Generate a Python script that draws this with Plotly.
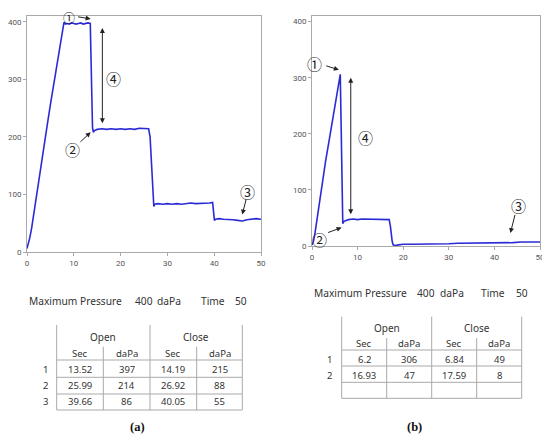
import plotly.graph_objects as go

# ---------------- data ----------------
a_time = [0, 0.3, 0.6, 1.0, 1.5, 2.0, 2.5, 3.0, 3.5, 4.0, 4.5, 5.0, 5.5, 6.0, 6.5, 7.0, 7.5, 7.9,
          8.2, 8.6, 9.0, 9.5, 10.0, 10.5, 11.0, 11.5, 12.0, 12.5, 13.0, 13.52, 13.7, 13.85, 14.0,
          14.19, 14.4, 14.7, 15, 16, 17, 18, 19, 20, 21, 22, 23, 24, 25, 25.99, 26.3, 26.6, 26.92,
          27.1, 27.3, 27.6, 28, 29, 30, 31, 32, 33, 34, 35, 36, 37, 38, 39, 39.66, 39.85, 40.05,
          40.3, 41, 42, 43, 44, 45, 46, 47, 48, 49, 50]
a_press = [6, 14, 25, 42, 70, 99, 126, 152, 178, 204, 230, 256, 282, 308, 334, 358, 382, 399,
           396, 397, 396, 398, 397, 396, 397, 398, 396, 397, 398, 397, 330, 262, 216,
           208, 211, 212, 213, 214, 213, 214, 213, 214, 213, 214, 213, 215, 214, 214, 200, 160, 100,
           79, 83, 84, 84, 83, 84, 83, 84, 83, 84, 85, 84, 84, 85, 85, 86, 70, 55,
           57, 58, 57, 57, 56, 55, 54, 56, 57, 58, 57]

b_time = [0, 0.3, 0.6, 1.0, 1.5, 2.0, 2.5, 3.0, 3.5, 4.0, 4.5, 5.0, 5.5, 6.0, 6.2, 6.4, 6.6, 6.75,
          7.0, 7.5, 8, 9, 10, 11, 12, 13, 14, 15, 16, 16.93, 17.2, 17.4, 17.59, 17.8, 18.2, 19, 20,
          22, 24, 26, 28, 30, 32, 34, 36, 38, 40, 42, 44, 46, 48, 50]
b_press = [2, 8, 20, 42, 75, 104, 128, 152, 176, 200, 225, 250, 274, 298, 306, 210, 90, 40,
           44, 46, 47, 48, 47, 48, 48, 47, 48, 48, 48, 47, 35, 18, 8, 2, 1, 2, 3,
           3, 3, 4, 4, 4, 5, 5, 5, 6, 6, 6, 6, 7, 7, 7]

x_ticks = [0, 10, 20, 30, 40, 50]
y_ticks = [0, 100, 200, 300, 400]

header_labels = ["Open", "Close"]
sub_labels = ["Sec", "daPa", "Sec", "daPa"]
a_open_sec = [13.52, 25.99, 39.66]
a_open_dapa = [397, 214, 86]
a_close_sec = [14.19, 26.92, 40.05]
a_close_dapa = [215, 88, 55]
b_open_sec = [6.2, 16.93]
b_open_dapa = [306, 47]
b_close_sec = [6.84, 17.59]
b_close_dapa = [49, 8]

info_labels = ["Maximum Pressure", "400", "daPa", "Time", "50"]

# ---------------- helpers ----------------
OFF = 8                      # page body margin
W, H = 550 - OFF, 440 - OFF
def px(x):
    return (x - OFF) / W
def py(y):
    return 1 - (y - OFF) / H

LINE = "#2b2bd6"
GRID = "#a9a9a9"
TXT = "#333333"
FONT = "Noto Sans"
CIRC = "Noto Sans CJK KR"

fig = go.Figure()
fig.add_trace(go.Scatter(x=a_time, y=a_press, mode="lines", line=dict(color=LINE, width=1.6),
                         xaxis="x", yaxis="y", showlegend=False))
fig.add_trace(go.Scatter(x=b_time, y=b_press, mode="lines", line=dict(color=LINE, width=1.6),
                         xaxis="x2", yaxis="y2", showlegend=False))

ax_common = dict(showline=True, mirror=True, linecolor=GRID, linewidth=1, showgrid=False,
                 zeroline=False, ticks="outside", ticklen=3, tickcolor=GRID, automargin=False,
                 tickfont=dict(family="Roboto", size=8, color="#555"))

fig.update_layout(
    width=W, height=H, autosize=False,
    margin=dict(l=0, r=0, t=0, b=0),
    paper_bgcolor="white", plot_bgcolor="white",
    xaxis=dict(domain=[px(27), px(261)], range=[0, 50], tickvals=x_ticks, anchor="y", **ax_common),
    yaxis=dict(domain=[py(252), py(16)], range=[0, 410], tickvals=y_ticks, anchor="x", **ax_common),
    xaxis2=dict(domain=[px(312), px(540)], range=[0, 50], tickvals=x_ticks, anchor="y2", **ax_common),
    yaxis2=dict(domain=[py(246), py(16)], range=[0, 410], tickvals=y_ticks, anchor="x2", **ax_common),
)

ann = []
shapes = []

# circled markers and arrows
def circ(text, x, y, xr, yr, size=15):
    ann.append(dict(text=text, x=x, y=y, xref=xr, yref=yr, showarrow=False,
                    xanchor="center", yanchor="middle",
                    font=dict(family=CIRC, size=size, color="#222")))

def arrow(x0, y0, x1, y1, xr, yr, both=False):
    d = dict(text="", x=x1, y=y1, ax=x0, ay=y0, xref=xr, yref=yr, axref=xr, ayref=yr,
             showarrow=True, arrowhead=2, arrowsize=1, arrowwidth=1, arrowcolor="#222",
             standoff=0, startstandoff=0)
    if both:
        d.update(arrowside="end+start", startarrowhead=2, startarrowsize=1)
    ann.append(d)

# panel (a)
circ("①", px(69), py(17.5), "paper", "paper", size=12); arrow(10.6, 409, 13.6, 405, "x", "y")
circ("②", 9.7, 178, "x", "y"); arrow(11.1, 189, 13.6, 208, "x", "y")
circ("③", 47.1, 105, "x", "y"); arrow(46.9, 94, 46.0, 65, "x", "y")
circ("④", 18.5, 302, "x", "y"); arrow(16.1, 221, 16.1, 389, "x", "y", both=True)
# panel (b)
circ("①", 0.6, 325, "x2", "y2"); arrow(2.8, 322, 5.9, 314, "x2", "y2")
circ("②", 1.7, 11, "x2", "y2"); arrow(3.2, 23, 6.5, 33, "x2", "y2")
circ("③", 45.2, 72, "x2", "y2"); arrow(44.6, 58, 43.5, 23, "x2", "y2")
circ("④", 11.8, 193, "x2", "y2"); arrow(8.5, 54, 8.5, 300, "x2", "y2", both=True)

# info line
def info(xs, y):
    for lab, x in zip(info_labels, xs):
        ann.append(dict(text=lab, x=px(x), y=py(y), xref="paper", yref="paper", showarrow=False,
                        xanchor="left", yanchor="middle",
                        font=dict(family=FONT, size=10.2, color=TXT)))

info([27, 133, 155, 199, 233], 301)
info([312, 415, 438, 479, 514], 293)

def txt(t, x, y, size=9.5, xanchor="center"):
    ann.append(dict(text=str(t), x=px(x), y=py(y), xref="paper", yref="paper", showarrow=False,
                    xanchor=xanchor, yanchor="middle", font=dict(family=FONT, size=size, color=TXT)))

def hline(x0, x1, y):
    shapes.append(dict(type="line", xref="paper", yref="paper", x0=px(x0), x1=px(x1),
                       y0=py(y), y1=py(y), line=dict(color=GRID, width=1)))

def vline(x, y0, y1):
    shapes.append(dict(type="line", xref="paper", yref="paper", x0=px(x), x1=px(x),
                       y0=py(y0), y1=py(y1), line=dict(color=GRID, width=1)))

def table(cols, top, subtop, hlines, y_group, y_sub, row_ys, row_x, data_cols):
    for i in (0, 2, 4):
        vline(cols[i], top, hlines[-1])
    for i in (1, 3):
        vline(cols[i], subtop, hlines[-1])
    for yy in hlines:
        hline(cols[0], cols[4], yy)
    txt(header_labels[0], (cols[0] + cols[2]) / 2, y_group, size=10)
    txt(header_labels[1], (cols[2] + cols[4]) / 2, y_group, size=10)
    for j, lab in enumerate(sub_labels):
        txt(lab, (cols[j] + cols[j + 1]) / 2, y_sub)
    nrows = len(data_cols[0])
    for r in range(nrows):
        txt(r + 1, row_x, row_ys[r])
        for j in range(4):
            txt(data_cols[j][r], (cols[j] + cols[j + 1]) / 2, row_ys[r])

table([56.7, 103.3, 150, 196.7, 242.3], 325, 346.7, [360, 377.3, 394, 410],
      336.7, 353.3, [369.3, 385.7, 401.7], 45,
      [a_open_sec, a_open_dapa, a_close_sec, a_close_dapa])
table([341.7, 386.7, 431.7, 476.7, 521.7], 316.7, 338, [350, 366, 382.3, 398.3],
      328, 343, [359, 375], 330,
      [b_open_sec, b_open_dapa, b_close_sec, b_close_dapa])

# panel captions
for lab, x in (("(a)", 137), ("(b)", 414)):
    ann.append(dict(text="<b>" + lab + "</b>", x=px(x), y=py(427), xref="paper", yref="paper",
                    showarrow=False, xanchor="center", yanchor="middle",
                    font=dict(family="Liberation Serif", size=12.5, color="#111")))

fig.update_layout(annotations=ann, shapes=shapes)
fig.write_html("out.html")
